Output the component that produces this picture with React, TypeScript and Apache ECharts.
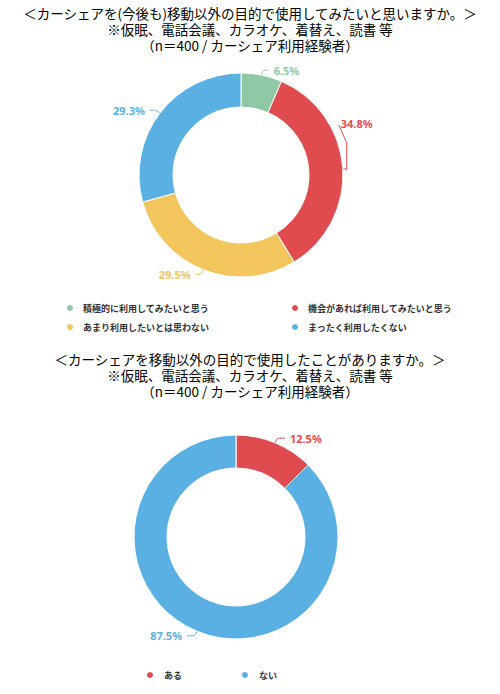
import React, { useEffect, useRef } from "react";
import * as echarts from "echarts";

const title1Lines = [
  "＜カーシェアを(今後も)移動以外の目的で使用してみたいと思いますか。＞",
  "※仮眠、電話会議、カラオケ、着替え、読書 等",
  "（n＝400 / カーシェア利用経験者）",
];
const title2Lines = [
  "＜カーシェアを移動以外の目的で使用したことがありますか。＞",
  "※仮眠、電話会議、カラオケ、着替え、読書 等",
  "（n＝400 / カーシェア利用経験者）",
];

const q1Categories = [
  "積極的に利用してみたいと思う",
  "機会があれば利用してみたいと思う",
  "あまり利用したいとは思わない",
  "まったく利用したくない",
];
const q1Values = [6.5, 34.8, 29.5, 29.3];
const q1Colors = ["#8ec8a5", "#e04b50", "#f2c65c", "#5bb0e3"];

const q2Categories = ["ある", "ない"];
const q2Values = [12.5, 87.5];
const q2Colors = ["#e04b50", "#5bb0e3"];

const FONT = "'Noto Sans CJK JP', 'Noto Sans', sans-serif";

export default function App() {
  const ref = useRef<HTMLDivElement>(null);
  useEffect(() => {
    document.body.style.margin = "0";
    if (!ref.current) return;
    const chart = echarts.init(ref.current, null, { renderer: "svg" });
    const titleStyle = {
      fontSize: 13.5,
      fontWeight: "normal" as const,
      color: "#000",
      fontFamily: FONT,
      lineHeight: 15,
    };
    const makeTitles = (lines: string[], top0: number) =>
      lines.map((t, i) => ({
        text: t,
        left: "center",
        top: top0 + i * 16,
        padding: 0,
        textStyle: titleStyle,
      }));
    const q1Data = q1Categories.map((n, i) => ({
      name: n,
      value: q1Values[i],
      itemStyle: { color: q1Colors[i] },
      label: { color: q1Colors[i] },
      labelLine: { lineStyle: { color: q1Colors[i] }, smooth: i === 1 ? false : true },
    }));
    const q2Data = q2Categories.map((n, i) => ({
      name: n,
      value: q2Values[i],
      itemStyle: { color: q2Colors[i] },
      label: { color: q2Colors[i] },
      labelLine: { lineStyle: { color: q2Colors[i] } },
    }));
    const legendText = {
      fontSize: 9,
      fontWeight: "bold" as const,
      color: "#333",
      fontFamily: FONT,
    };
    const labelBase = {
      show: true,
      position: "outside" as const,
      formatter: "{c}%",
      fontSize: 11,
      fontWeight: "bold" as const,
      fontFamily: "'Noto Sans', sans-serif",
    };
    chart.setOption({
      animation: false,
      backgroundColor: "#fff",
      title: [...makeTitles(title1Lines, 5), ...makeTitles(title2Lines, 351)],
      legend: [
        {
          data: [q1Categories[0], q1Categories[2]],
          orient: "vertical",
          left: 60,
          top: 298,
          icon: "circle",
          itemWidth: 16,
          itemHeight: 8,
          itemGap: 9,
          textStyle: legendText,
        },
        {
          data: [q1Categories[1], q1Categories[3]],
          orient: "vertical",
          left: 285,
          top: 298,
          icon: "circle",
          itemWidth: 16,
          itemHeight: 8,
          itemGap: 9,
          textStyle: legendText,
        },
        {
          data: q2Categories,
          orient: "horizontal",
          left: 140,
          top: 665,
          icon: "circle",
          itemWidth: 18,
          itemHeight: 8,
          itemGap: 58,
          textStyle: legendText,
        },
      ],
      series: [
        {
          type: "pie",
          center: [241, 175],
          radius: [68, 102],
          startAngle: 90,
          clockwise: true,
          avoidLabelOverlap: false,
          itemStyle: { borderColor: "#fff", borderWidth: 1 },
          label: labelBase,
          labelLine: { show: true, length: 5, length2: 6, smooth: true, lineStyle: { width: 1 } },
          labelLayout: (p: any) => {
            if (p.dataIndex !== 1 || !p.labelLinePoints) return {};
            const a = p.labelLinePoints[0];
            const r = p.labelRect;
            const nx = r.x - 18;
            const ny = r.y - 44;
            return {
              dx: -18,
              dy: -44,
              labelLinePoints: [
                a,
                [a[0] + 4, a[1] + 2],
                [a[0] + 4, ny + r.height + 14],
                [nx - 2, ny + r.height - 4],
              ],
            };
          },
          data: q1Data,
        },
        {
          type: "pie",
          center: [236, 537],
          radius: [69, 102],
          startAngle: 90,
          clockwise: true,
          avoidLabelOverlap: false,
          itemStyle: { borderColor: "#fff", borderWidth: 1 },
          label: labelBase,
          labelLine: { show: true, length: 5, length2: 8, smooth: true, lineStyle: { width: 1 } },
          data: q2Data,
        },
      ],
    });
    return () => chart.dispose();
  }, []);
  return <div ref={ref} style={{ width: 500, height: 694 }} />;
}
